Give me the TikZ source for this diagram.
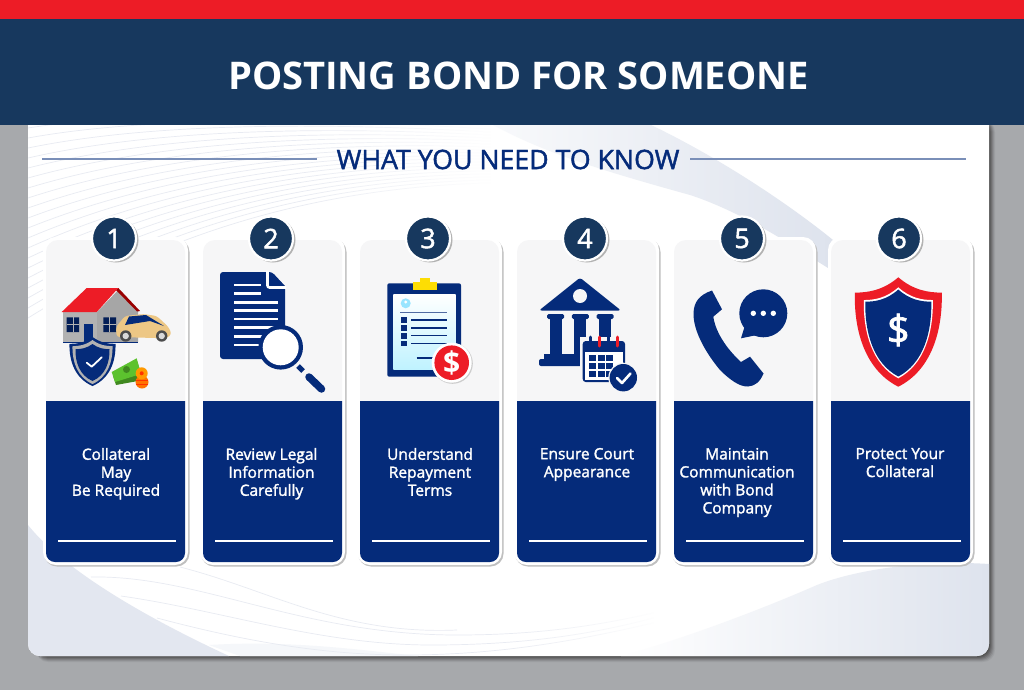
\documentclass[tikz,border=0pt]{standalone}
\usepackage{fontspec}
\setmainfont{Open Sans}
\newfontfamily\semifont[FakeBold=1.7]{Open Sans}
\usetikzlibrary{positioning,fadings}
\definecolor{greyclr}{rgb}{0.655, 0.663, 0.675}
\definecolor{redclr}{rgb}{0.93, 0.11, 0.15}
\definecolor{navyclr}{rgb}{0.09, 0.22, 0.37}
\definecolor{blueclr}{rgb}{0.02, 0.17, 0.48}
\definecolor{cardclr}{rgb}{0.965, 0.965, 0.97}
\definecolor{swooshclr}{rgb}{0.87, 0.89, 0.93}
\definecolor{hairclr}{rgb}{0.91, 0.92, 0.95}
\definecolor{ruleclr}{rgb}{0.48, 0.56, 0.72}
\definecolor{tanclr}{rgb}{0.93, 0.78, 0.52}
\definecolor{cashclr}{rgb}{0.36, 0.76, 0.18}
\tikzset{ %
  ,x=1pt,y=-1pt
  ,titletxt/.style={text=white, inner sep=0, font=\fontsize{38.1}{38}\selectfont\bfseries}
  ,subtxt/.style={text=blueclr, inner sep=0, font=\semifont\fontsize{26.7}{26}\selectfont}
  ,numcirc/.style={circle, fill=navyclr, draw=white, line width=2.2pt, inner sep=0, minimum size=44pt, text=white, font=\semifont\fontsize{27}{27}\selectfont}
  ,bodytxt/.style={text=white, inner sep=0, align=center, anchor=north, font=\semifont\fontsize{15.5}{18}\selectfont}
  ,rulegrey/.style={draw=ruleclr, line width=2pt}
  ,hair/.style={draw=hairclr, line width=0.7pt}
}
\newcommand\shieldshape[5]{\fill[#1,shift={(#2,#3)},xscale=#4,yscale=#5] (0,0) .. controls (.35,.12) and (.7,.14) .. (1,.14) .. controls (1.02,.5) and (.75,.85) .. (0,1) .. controls (-.75,.85) and (-1.02,.5) .. (-1,.14) .. controls (-.7,.14) and (-.35,.12) .. (0,0) -- cycle;}
\begin{document}
\begin{tikzpicture}
  \useasboundingbox (0,0) rectangle (1024,690);
  \fill[greyclr] (0,0) rectangle (1024,690);
  % panel
  \foreach \d/\o in {6/.08,5/.12,4/.16,3/.2,2/.25,1/.3}
    \fill[black!80, opacity=\o, rounded corners=12pt] (36,120) rectangle (989+\d,656+\d);
  \fill[white, rounded corners=12pt] (28,110) rectangle (989,656);
  \begin{scope}
    \clip[rounded corners=12pt] (28,110) rectangle (989,656);
    % hair lines
    \foreach \i in {0,...,19}
      \draw[hair] (28,128+\i*10) .. controls (130,112+\i*7.5) and (280,112+\i*4) .. (490,126+\i*3);
    \fill[white, path fading=west] (300,125) rectangle (492,240);
    % swooshes
    \shade[left color=swooshclr!20, right color=swooshclr] (493,125) .. controls (545,153) and (600,170) .. (690,195) .. controls (730,208) and (770,232) .. (780,238) -- (828,268) -- (833,240) .. controls (790,205) and (720,158) .. (651,125) -- cycle;
    \fill[swooshclr!85] (28,525) .. controls (60,565) and (130,610) .. (229,656) -- (28,656) -- cycle;
    \fill[swooshclr!30] (209,645) .. controls (290,640) and (360,650) .. (418,656) -- (240,656) -- cycle;
    \draw[hair] (91,577) .. controls (200,575) and (300,635) .. (457,635) .. controls (540,635) and (600,625) .. (653,613);
    \draw[hair] (121,596) .. controls (220,610) and (320,645) .. (431,645) .. controls (520,645) and (590,635) .. (653,618);
    \draw[hair] (157,618) .. controls (240,640) and (320,655) .. (405,655) .. controls (500,655) and (580,640) .. (653,623);
    \draw[hair] (180,567) .. controls (270,590) and (340,635) .. (457,630);
    \fill[white, path fading=west] (500,600) rectangle (660,656);
    \shade[left color=white, middle color=swooshclr!85, right color=swooshclr] (621,656) .. controls (680,640) and (760,610) .. (817,585) .. controls (860,568) and (930,560) .. (989,564) -- (989,656) -- cycle;
  \end{scope}
  % header
  \fill[redclr] (0,0) rectangle (1024,19);
  \fill[navyclr] (0,19) rectangle (1024,125);
  \node[titletxt] (title) at (518.5,76) {POSTING BOND FOR SOMEONE};
  \node[subtxt] (subtitle) at (508,159.5) {WHAT YOU NEED TO KNOW};
  \coordinate (ruleA) at (42,158.5);
  \coordinate (ruleB) at (317,158.5);
  \coordinate (ruleC) at (690,158.5);
  \coordinate (ruleD) at (966,158.5);
  \draw[rulegrey] (ruleA) -- (ruleB);
  \draw[rulegrey] (ruleC) -- (ruleD);
  % cards
  \foreach \n/\xx/\tx/\txt in {1/46/116/{Collateral\\May\\Be Required},2/203/271.5/{Review Legal\\Information\\Carefully},3/360/430/{Understand\\Repayment\\Terms},4/517/587/{Ensure Court\\Appearance},5/674/737/{Maintain\\Communication\\with Bond\\Company},6/831/900/{Protect Your\\Collateral}} {
    \fill[black!25, rounded corners=13pt] (\xx-2,239) rectangle (\xx+143.5,566.5);
    \fill[white, rounded corners=13pt] (\xx-3,237) rectangle (\xx+142,565);
    \fill[cardclr, rounded corners=12pt] (\xx,240) -- (\xx+139,240) -- (\xx+139,420) -- (\xx,420) -- cycle;
    \fill[blueclr, rounded corners=9pt] (\xx,401) [sharp corners] -- (\xx+139,401) [rounded corners=9pt] -- (\xx+139,562) -- (\xx,562) -- cycle;
    \fill[blueclr] (\xx,401) rectangle (\xx+139,420);
    \node[bodytxt] (label\n) at (\tx,447.8) {\txt};
    \draw[white, line width=1.5pt] (\xx+12,541) -- (\xx+130,541);
    \fill[black!30] (\xx+70,240) circle (22.5);
    \node[numcirc] (num\n) at (\xx+68,238.5) {\n};
  }
  % icon 1: house, car, shield, money
  \fill[black!30!white] (63,312) rectangle (97,342);
  \fill[black!35] (97,312) -- (118.3,290) -- (138,311) -- (138,342) -- (97,342) -- cycle;
  \draw[blueclr, line width=.8pt] (63,342) -- (138,342);
  \fill[blueclr!70!black] (66.7,317.3) rectangle (79,332) (103.3,317.3) rectangle (116,332);
  \draw[white!70!black, line width=.5pt] (72.8,317.3) -- (72.8,332) (66.7,324.6) -- (79,324.6) (109.6,317.3) -- (109.6,332) (103.3,324.6) -- (116,324.6);
  \fill[blueclr] (84,324) rectangle (93.3,342);
  \fill[red!60!black] (118.3,288) -- (140,311) -- (137,311.5) -- (116,290) -- cycle;
  \fill[redclr] (61.7,312) -- (86.7,288) -- (118.3,288) -- (96.7,312) -- cycle;
  \fill[tanclr, rounded corners=3pt] (116.7,337) -- (116,327) -- (125,316) -- (143.3,314) -- (156.7,316) -- (168.3,326.7) -- (171.7,334) -- (166.7,338.3) -- cycle;
  \fill[blueclr] (125,325) -- (129,316.5) -- (146,315) -- (164,326) -- (150,321) -- cycle;
  \foreach \wx in {125.7,161.7} {
    \fill[black!70] (\wx,336) circle (5.7);
    \fill[black!15] (\wx,336) circle (3.2);
  }
  \shieldshape{blueclr}{92.5}{337}{23}{49}
  \shieldshape{black!30}{92.5}{340}{20}{44}
  \shieldshape{blueclr}{92.5}{344}{17}{37}
  \draw[white, line width=1.8pt, line cap=round, line join=round] (86.7,362.7) -- (91.7,366.7) -- (101.7,357.3);
  \fill[cashclr!70!black] (113,376) -- (137,361) -- (143.3,380) -- (116,385) -- cycle;
  \fill[cashclr] (111.7,372) -- (136.7,358.3) -- (141,374) -- (115,382) -- cycle;
  \fill[cashclr!70!black] (126.5,369.5) circle (3.5);
  \fill[orange!90!red] (142,382) circle (6.5);
  \draw[red!60!orange, line width=.5pt] (136,380) -- (148,380) (136,384) -- (148,384);
  \fill[orange!80!yellow] (141.7,373.3) circle (6);
  \fill[red!60!orange] (141.7,373.3) circle (2);
  % icon 2: page and magnifier
  \fill[blueclr, rounded corners=3pt] (220,272) -- (272,272) [sharp corners] -- (285,286) [rounded corners=3pt] -- (285,359) -- (220,359) -- cycle;
  \draw[white, line width=2.6pt, rounded corners=2pt] (267.5,271) -- (267.5,287.5) -- (286,287.5);
  \fill[cardclr] (286,271) -- (286,286) -- (272,271) -- cycle;
  \foreach \ly/\lx in {285/261,293.3/261,302.3/277.7,310.7/277.7,319/277.7,327.7/277.7,336.3/262,345/262}
    \draw[white, line width=2.6pt] (234.3,\ly) -- (\lx,\ly);
  \fill[blueclr] (280.7,347.3) circle (22.3);
  \fill[white] (280.7,347.3) circle (18);
  \draw[blueclr, line width=5pt] (298,366) -- (303,371);
  \draw[blueclr, line width=7.5pt, line cap=round] (309,377) -- (321.5,389);
  % icon 3: clipboard
  \fill[blueclr, rounded corners=2pt] (387.3,283.3) rectangle (461,376.7);
  \shade[top color=white, bottom color=blue!20!cyan!25!white] (393.3,294.3) rectangle (455.7,369.3);
  \fill[yellow!80!orange] (413.3,281.7) rectangle (436.7,290);
  \fill[yellow!80!orange] (420,277.7) rectangle (430,282);
  \fill[blue!25!cyan!40!white] (405.7,303.3) circle (5);
  \fill[white] (405.7,302) circle (1.7);
  \draw[blueclr!70, line width=1pt] (400,312) -- (446.7,312);
  \foreach \ly in {320,328,335.7,343.3} {
    \fill[blueclr] (400.7,\ly-2.8) rectangle (407.3,\ly+2.8);
    \draw[blueclr, line width=1.3pt] (411,\ly) -- (447.3,\ly);
  }
  \draw[blueclr, line width=1.4pt] (416.7,358) -- (433,358);
  \fill[black!20] (452.5,363.5) circle (20.3);
  \fill[white] (451.7,362.7) circle (20);
  \fill[redclr] (451.7,362.7) circle (17.3);
  \node[inner sep=0, text=white, font=\fontsize{30}{30}\selectfont\bfseries] (dollarA) at (451.7,362.7) {\$};
  % icon 4: court and calendar
  \fill[blueclr, rounded corners=2.5pt] (580,277.7) -- (621,310.5) -- (539,310.5) -- cycle;
  \fill[cardclr] (580,296) circle (7);
  \foreach \cx in {555.7,580.3,605} {
    \fill[blueclr, rounded corners=1.5pt] (\cx-8.5,314) rectangle (\cx+8.5,319);
    \fill[blueclr] (\cx-6,318) rectangle (\cx+6,354);
  }
  \fill[blueclr] (544,354) rectangle (584,360);
  \fill[blueclr, rounded corners=2pt] (539,359) rectangle (584,366);
  \fill[cardclr] (580,337) rectangle (626,384);
  \fill[blueclr, rounded corners=3pt] (582.7,341) rectangle (625,382);
  \fill[white] (585,352) rectangle (622.7,379.5);
  \foreach \gx in {589,597.5,606}
    \foreach \gy in {358,366,374}
      \fill[blueclr] (\gx,\gy-2.8) rectangle (\gx+7,\gy+2.8);
  \fill[white] (614,355) rectangle (622.7,361);
  \foreach \rx/\rc in {590/blueclr,599/redclr,608/blueclr,617/redclr}
    \draw[\rc, line width=3pt, line cap=round] (\rx,337) -- (\rx,346);
  \fill[cardclr] (623.3,377.7) circle (15);
  \fill[blueclr] (623.3,377.7) circle (13.7);
  \draw[white, line width=2.6pt, line cap=round, line join=round] (617,378) -- (622,383) -- (630.5,373.5);
  % icon 5: phone and bubble
  \fill[blueclr] (712,290.5) -- (722,309.3) -- (713.3,316.7) .. controls (716,335) and (730,352) .. (741,362) -- (750,356.7) -- (763.5,373.5) .. controls (760,382) and (755,386) .. (748,386.5) .. controls (740,387) and (730,380) .. (720,370) .. controls (705,352) and (693,330) .. (693.5,313) .. controls (694,302) and (699,295) .. (712,290.5) -- cycle;
  \fill[blueclr] (763.3,313.3) circle (24);
  \fill[blueclr] (741,338.3) -- (746,322) -- (757,335) -- cycle;
  \foreach \dx in {753.3,763.3,773.3}
    \fill[white] (\dx,313.3) circle (2.7);
  % icon 6: shield
  \shieldshape{redclr}{898.3}{277.3}{43.5}{109.4}
  \shieldshape{white}{898.3}{287.3}{34.5}{91}
  \shieldshape{blueclr}{898.3}{289.5}{33}{87}
  \node[inner sep=0, text=white, font=\semifont\fontsize{40}{40}\selectfont] (dollarB) at (898.3,330) {\$};
\end{tikzpicture}
\end{document}
